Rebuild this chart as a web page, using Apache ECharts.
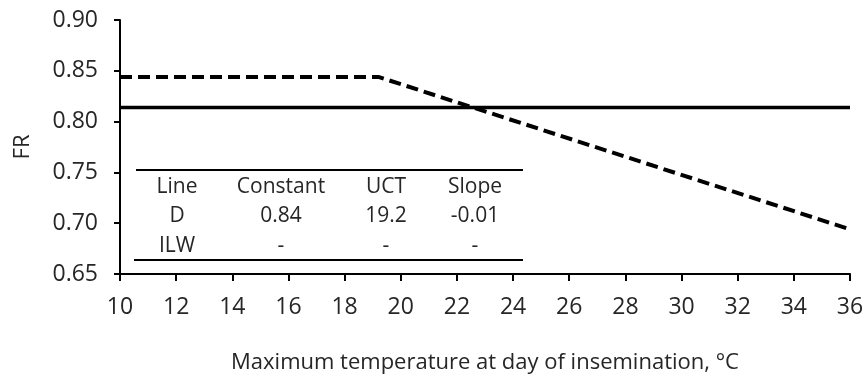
<!DOCTYPE html>
<html>
<head>
<meta charset="utf-8">
<script src="https://cdn.jsdelivr.net/npm/echarts@6/dist/echarts.min.js"></script>
<style>
  html, body { margin: 0; padding: 0; background: #fff; }
  #chart { width: 868px; height: 381px; }
</style>
</head>
<body>
<div id="chart"></div>
<script>
// Fertility rate (FR) vs. maximum temperature on the day of insemination
const seriesDName = 'D';
const seriesD = [[10, 0.844], [19.2, 0.844], [36, 0.694]];
const seriesILWName = 'ILW';
const seriesILW = [[10, 0.814], [36, 0.814]];

// Summary table drawn inside the plot
const tableHeader = ['Line', 'Constant', 'UCT', 'Slope'];
const tableRowD = ['D', '0.84', '19.2', '-0.01'];
const tableRowILW = ['ILW', '-', '-', '-'];

const xTitle = 'Maximum temperature at day of insemination, \u00B0C';
const yTitle = 'FR';

const FONT = '"Open Sans", "DejaVu Sans", sans-serif';
const TEXT = '#262626';
const chart = echarts.init(document.getElementById('chart'));

const colX = [177, 281, 386, 475];
const rowY = [187, 216.5, 246];
const tableRows = [tableHeader, tableRowD, tableRowILW];
const graphic = [];
tableRows.forEach((row, r) => {
  row.forEach((txt, c) => {
    graphic.push({
      type: 'text', x: colX[c], y: rowY[r],
      style: { text: txt, fill: TEXT, font: '21px ' + FONT, align: 'center', verticalAlign: 'middle' }
    });
  });
});
graphic.push({ type: 'line', shape: { x1: 136, y1: 170, x2: 523, y2: 170 }, style: { stroke: '#000', lineWidth: 2 } });
graphic.push({ type: 'line', shape: { x1: 134, y1: 260, x2: 523, y2: 260 }, style: { stroke: '#000', lineWidth: 2 } });

chart.setOption({
  animation: false,
  backgroundColor: '#fff',
  grid: { left: 120, right: 18, top: 20, bottom: 107 },
  xAxis: {
    type: 'value', min: 10, max: 36, interval: 2,
    name: xTitle, nameLocation: 'middle', nameGap: 78,
    nameTextStyle: { fontFamily: FONT, fontSize: 22, color: TEXT },
    axisLine: { lineStyle: { color: '#000', width: 2 } },
    axisTick: { show: true, length: 7, lineStyle: { color: '#000', width: 2 } },
    axisLabel: { fontFamily: FONT, fontSize: 23, color: TEXT, margin: 22 },
    splitLine: { show: false }
  },
  yAxis: {
    type: 'value', min: 0.65, max: 0.90, interval: 0.05,
    name: yTitle, nameLocation: 'middle', nameGap: 86, nameRotate: 90,
    nameTextStyle: { fontFamily: FONT, fontSize: 22, color: TEXT },
    axisLine: { show: true, lineStyle: { color: '#000', width: 2 } },
    axisTick: { show: true, length: 6, lineStyle: { color: '#000', width: 2 } },
    axisLabel: { fontFamily: FONT, fontSize: 23, color: TEXT, margin: 22, formatter: v => v.toFixed(2) },
    splitLine: { show: false }
  },
  series: [
    {
      name: seriesDName, type: 'line', data: seriesD, symbol: 'none',
      lineStyle: { color: '#000', width: 4, type: [12, 6] }
    },
    {
      name: seriesILWName, type: 'line', data: seriesILW, symbol: 'none',
      lineStyle: { color: '#000', width: 3.5 }
    }
  ],
  graphic: graphic
});
</script>
</body>
</html>
